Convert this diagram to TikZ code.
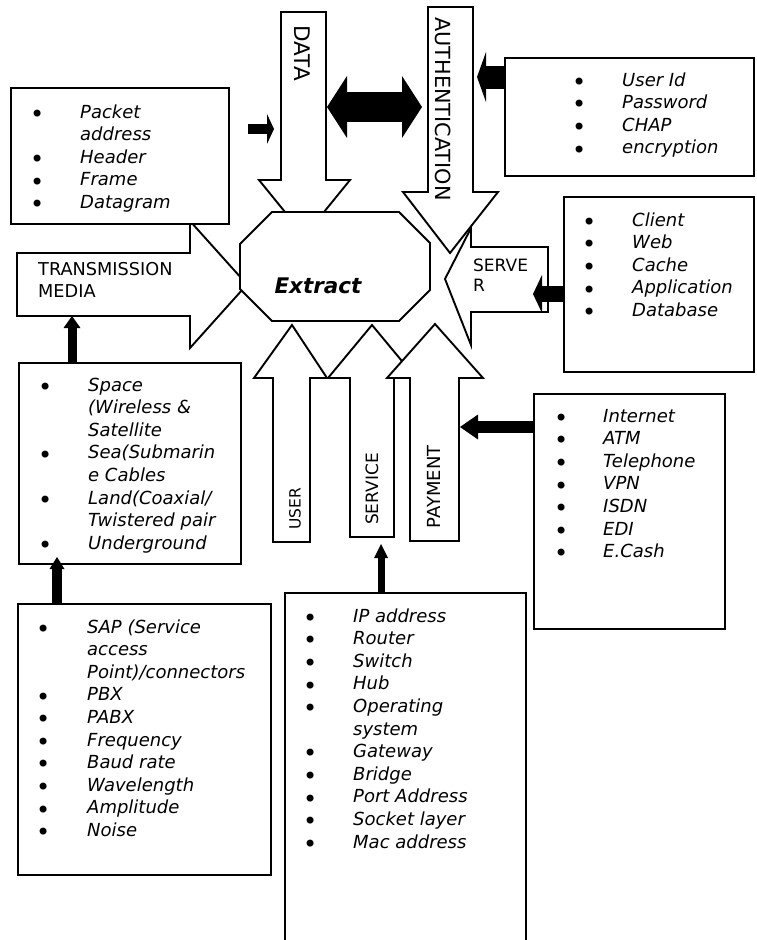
\documentclass[tikz,border=0pt]{standalone}
\usepackage{fontspec}
\setmainfont{DejaVu Sans}
\usetikzlibrary{arrows.meta}

\tikzset{
  blockarrow/.style={draw, fill=white, line width=1.9pt, line join=miter},
  listbox/.style={draw, fill=white, line width=1.9pt, inner sep=0pt, anchor=north west},
  listtext/.style={anchor=base west, inner sep=0pt, font=\fontsize{18}{22.6}\selectfont},
  arrowtext/.style={inner sep=0pt, font=\fontsize{17.7}{22}\selectfont},
  feed/.style n args={3}{draw=black, line width=#1,
    -{Triangle[length=#2, width=#3, line width=0pt]}},
}
% a solid round bullet, a little larger than the text bullet
\newcommand{\bul}{\raisebox{-4.3pt}{\fontsize{24}{0}\selectfont\textbullet}}
% bulleted list: first argument is the bullet column width
\newcommand{\blist}[2]{\begin{tabular}[t]{@{}p{#1}@{}l@{}}#2\end{tabular}}

\begin{document}
\begin{tikzpicture}[x=1pt,y=-1pt]
\useasboundingbox (0,0) rectangle (757,940);
\fill[white] (0,0) rectangle (757,940);

% ---- block arrows pointing at the centre ----
\draw[blockarrow] (17,253) -- (190,253) -- (190,221) -- (247,284.5) -- (190,348)
  -- (190,316) -- (17,316) -- cycle;
\node[arrowtext, anchor=base west] (tmlabel) at (38,275)
  {\begin{tabular}[t]{@{}l@{}}TRANSMISSION\\MEDIA\end{tabular}};

\draw[blockarrow] (281,12) -- (326,12) -- (326,180) -- (350,180) -- (304.5,236)
  -- (259,180) -- (281,180) -- cycle;
\node[arrowtext, font=\fontsize{21.5}{24}\selectfont, rotate=-90] (datalabel) at (302,53) {DATA};

\draw[blockarrow] (428,7) -- (473,7) -- (473,192) -- (498,192) -- (450,253)
  -- (403,192) -- (428,192) -- cycle;
\node[arrowtext, font=\fontsize{20.8}{24}\selectfont, rotate=-90] (authlabel) at (443.5,109) {AUTHENTICATION};

\draw[blockarrow] (548,247) -- (548,312) -- (471,312) -- (471,345) -- (445,279)
  -- (471,228) -- (471,247) -- cycle;
\node[arrowtext, font=\fontsize{17}{20}\selectfont, anchor=base west] (srvlabel) at (473,271)
  {\begin{tabular}[t]{@{}l@{}}SERVE\\R\end{tabular}};

\draw[blockarrow] (273,542) -- (310,542) -- (310,378) -- (327,378) -- (292,325)
  -- (254,378) -- (273,378) -- cycle;
\node[arrowtext, font=\fontsize{15.5}{20}\selectfont, rotate=90] (userlabel) at (295,509) {USER};

\draw[blockarrow] (350,537) -- (394,537) -- (394,378) -- (416,378) -- (372,325)
  -- (328,378) -- (350,378) -- cycle;
\node[arrowtext, font=\fontsize{17}{20}\selectfont, rotate=90] (svclabel) at (372,489) {SERVICE};

\draw[blockarrow] (410,541) -- (459,541) -- (459,378) -- (483,378) -- (435,324)
  -- (387,378) -- (410,378) -- cycle;
\node[arrowtext, font=\fontsize{18}{22}\selectfont, rotate=90] (paylabel) at (434,487) {PAYMENT};

% ---- centre octagon ----
\draw[blockarrow] (272,212) -- (399,212) -- (430,243) -- (430,290) -- (399,321)
  -- (272,321) -- (240,289) -- (240,244) -- cycle;
\node[inner sep=0pt, font=\fontsize{21.5}{25}\selectfont\bfseries\itshape] (extract) at (318,286) {Extract};

% ---- bulleted boxes ----
\node[listbox, minimum width=218pt, minimum height=136pt] (pktbox) at (10,87) {};
\node[listtext] at (30,118) {\itshape\blist{50pt}{%
  \bul & Packet\\ & address\\ \bul & Header\\
  \bul & Frame\\ \bul & Datagram}};

\node[listbox, minimum width=249pt, minimum height=118pt] (authbox) at (504,57) {};
\node[listtext] at (572,86) {\itshape\blist{50pt}{%
  \bul & User Id\\ \bul & Password\\
  \bul & CHAP\\ \bul & encryption}};

\node[listbox, minimum width=190pt, minimum height=175pt] (srvbox) at (563,196) {};
\node[listtext] at (582,226) {\itshape\blist{50pt}{%
  \bul & Client\\ \bul & Web\\ \bul & Cache\\
  \bul & Application\\ \bul & Database}};

\node[listbox, minimum width=222pt, minimum height=201pt] (spacebox) at (18,362) {};
\node[listtext] at (38,391) {\itshape\blist{50pt}{%
  \bul & Space\\ & (Wireless \&\\ & Satellite\\
  \bul & Sea(Submarin\\ & e Cables\\
  \bul & Land(Coaxial/\\ & Twistered pair\\
  \bul & Underground}};

\node[listbox, minimum width=253pt, minimum height=271pt] (sapbox) at (17,603) {};
\node[listtext] at (36,633) {\itshape\blist{51pt}{%
  \bul & SAP (Service\\ & access\\ & Point)/connectors\\
  \bul & PBX\\ \bul & PABX\\ \bul & Frequency\\
  \bul & Baud rate\\ \bul & Wavelength\\
  \bul & Amplitude\\ \bul & Noise}};

\node[listbox, minimum width=241pt, minimum height=360pt] (svcbox) at (284,592) {};
\node[listtext] at (303,622) {\itshape\blist{50pt}{%
  \bul & IP address\\ \bul & Router\\ \bul & Switch\\
  \bul & Hub\\ \bul & Operating\\ & system\\
  \bul & Gateway\\ \bul & Bridge\\ \bul & Port Address\\
  \bul & Socket layer\\ \bul & Mac address}};

\node[listbox, minimum width=191pt, minimum height=235pt] (paybox) at (533,393) {};
\node[listtext] at (554,422) {\itshape\blist{49pt}{%
  \bul & Internet\\ \bul & ATM\\ \bul & Telephone\\
  \bul & VPN\\ \bul & ISDN\\ \bul & EDI\\
  \bul & E.Cash}};

% ---- solid feed arrows ----
\coordinate (pktout) at (248,129);
\coordinate (datain) at (274,129);
\coordinate (dataside) at (327,107);
\coordinate (authside) at (422,107);
\coordinate (authin) at (477,77);
\coordinate (srvin) at (533,294);
\coordinate (tmin) at (72,316);
\coordinate (spacein) at (57,557);
\coordinate (svcin) at (381,544);
\coordinate (payin) at (460,427);

\draw[feed={10pt}{7pt}{30pt}] (pktout) -- (datain);
\draw[draw=black, line width=30pt,
  {Triangle[length=20pt, width=62pt, line width=0pt]}-{Triangle[length=20pt, width=62pt, line width=0pt]}]
  (dataside) -- (authside);
\draw[feed={23pt}{9pt}{50pt}] (authin -| authbox.west) -- (authin);
\draw[feed={16pt}{9pt}{38pt}] (srvin -| srvbox.west) -- (srvin);
\draw[feed={9pt}{12pt}{17pt}] (tmin |- spacebox.north) -- (tmin);
\draw[feed={10pt}{12pt}{15pt}] (spacein |- sapbox.north) -- (spacein);
\draw[feed={7pt}{14pt}{14pt}] (svcin |- svcbox.north) -- (svcin);
\draw[feed={12pt}{18pt}{25pt}] (payin -| paybox.west) -- (payin);
\end{tikzpicture}
\end{document}
